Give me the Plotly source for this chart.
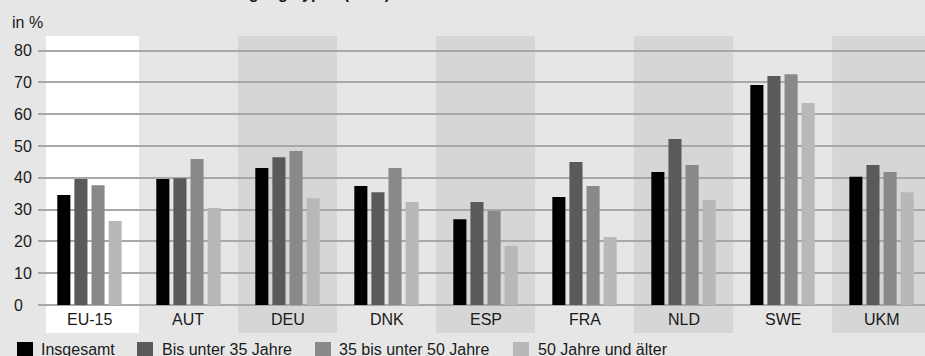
import plotly.graph_objects as go

categories = ["EU-15", "AUT", "DEU", "DNK", "ESP", "FRA", "NLD", "SWE", "UKM"]
series_names = ["Insgesamt", "Bis unter 35 Jahre", "35 bis unter 50 Jahre", "50 Jahre und älter"]
insgesamt = [34.6, 39.6, 43.1, 37.4, 27.0, 34.0, 41.8, 69.2, 40.3]
bis35 = [39.6, 39.9, 46.5, 35.5, 32.4, 45.0, 52.2, 72.0, 44.0]
bis50 = [37.7, 45.9, 48.4, 43.1, 29.6, 37.4, 44.0, 72.6, 41.8]
ab50 = [26.4, 30.5, 33.6, 32.4, 18.6, 21.4, 33.0, 63.5, 35.5]
y_ticks = [0, 10, 20, 30, 40, 50, 60, 70, 80]
y_unit = "in %"
title_text = "Anteil nach Beschäftigungstypen (2001)"

values = [insgesamt, bis35, bis50, ab50]
colors = ["#000000", "#5a5a5a", "#898989", "#b8b8b8"]
FONT = "Liberation Sans, Arial, sans-serif"
TXT = "#1a1a1a"

W, H = 925, 356
L, R, T, B = 38, 0, 36, 23
plot_w = W - L - R
plot_h = H - T - B

fig = go.Figure()
for name, vals, col in zip(series_names, values, colors):
    fig.add_trace(go.Bar(x=categories, y=vals, name=name, marker=dict(color=col, line=dict(width=0)),
                         showlegend=False))

shapes = []
ymin, ymax = -8.8, 84.6
for i, c in enumerate(categories):
    if i == 0:
        col = "#ffffff"
        x0 = -0.44
    elif i % 2 == 1:
        continue
    else:
        col = "#d6d6d6"
        x0 = i - 0.5
    shapes.append(dict(type="rect", xref="x", yref="y", x0=x0, x1=i + 0.5, y0=ymin, y1=ymax,
                       fillcolor=col, line=dict(width=0), layer="below"))

annotations = []
# category labels
for i, c in enumerate(categories):
    annotations.append(dict(x=c, y=-4.7, xref="x", yref="y", text=c, showarrow=False,
                            font=dict(family=FONT, size=16, color=TXT), xanchor="center", yanchor="middle"))
# y tick labels
for v in y_ticks:
    annotations.append(dict(x=(12 - L) / plot_w, y=v, xref="paper", yref="y", text=str(v), showarrow=False,
                            font=dict(family=FONT, size=16, color=TXT), xanchor="left", yanchor="middle"))
# unit label
annotations.append(dict(x=(10 - L) / plot_w, y=1 + (T - 22) / plot_h, xref="paper", yref="paper", text=y_unit,
                        showarrow=False, font=dict(family=FONT, size=16, color=TXT), xanchor="left", yanchor="middle"))
# cut-off title (only its descenders show at the top edge)
annotations.append(dict(x=(392 - L) / plot_w, y=1 + (T - 3.8) / plot_h, xref="paper", yref="paper",
                        text="<b>" + title_text + "</b>", showarrow=False,
                        font=dict(family=FONT, size=16, color=TXT), xanchor="right", yanchor="bottom"))
# legend
sq_x = [17, 137, 315, 513]
tx_x = [39, 160, 337, 536]
for name, col, sx, tx in zip(series_names, colors, sq_x, tx_x):
    shapes.append(dict(type="rect", xref="paper", yref="paper",
                       x0=(sx - L) / plot_w, x1=(sx + 16 - L) / plot_w,
                       y0=-(342 - T - plot_h) / plot_h, y1=-(356 - T - plot_h) / plot_h,
                       fillcolor=col, line=dict(width=0)))
    annotations.append(dict(x=(tx - L) / plot_w, y=-(349 - T - plot_h) / plot_h, xref="paper", yref="paper",
                            text=name, showarrow=False, font=dict(family=FONT, size=16, color=TXT),
                            xanchor="left", yanchor="middle"))

fig.update_layout(
    width=W, height=H, autosize=False,
    margin=dict(l=L, r=R, t=T, b=B, pad=0),
    paper_bgcolor="#e6e6e6", plot_bgcolor="#e6e6e6",
    barmode="group", bargap=0.309, bargroupgap=0.235,
    shapes=shapes, annotations=annotations,
    xaxis=dict(range=[-0.520, 8.439], showticklabels=False, showgrid=False, zeroline=False,
               ticks="", showline=False, fixedrange=True),
    yaxis=dict(range=[ymin, ymax], tickvals=y_ticks, showticklabels=False, showgrid=True,
               gridcolor="#a8a8a8", gridwidth=1.5, zeroline=False, ticks="", showline=False,
               fixedrange=True),
    font=dict(family=FONT, size=16, color=TXT),
)

fig.write_html("out.html", config={"displayModeBar": False},
               post_script="document.body.style.margin='0';document.body.style.overflow='hidden';")
